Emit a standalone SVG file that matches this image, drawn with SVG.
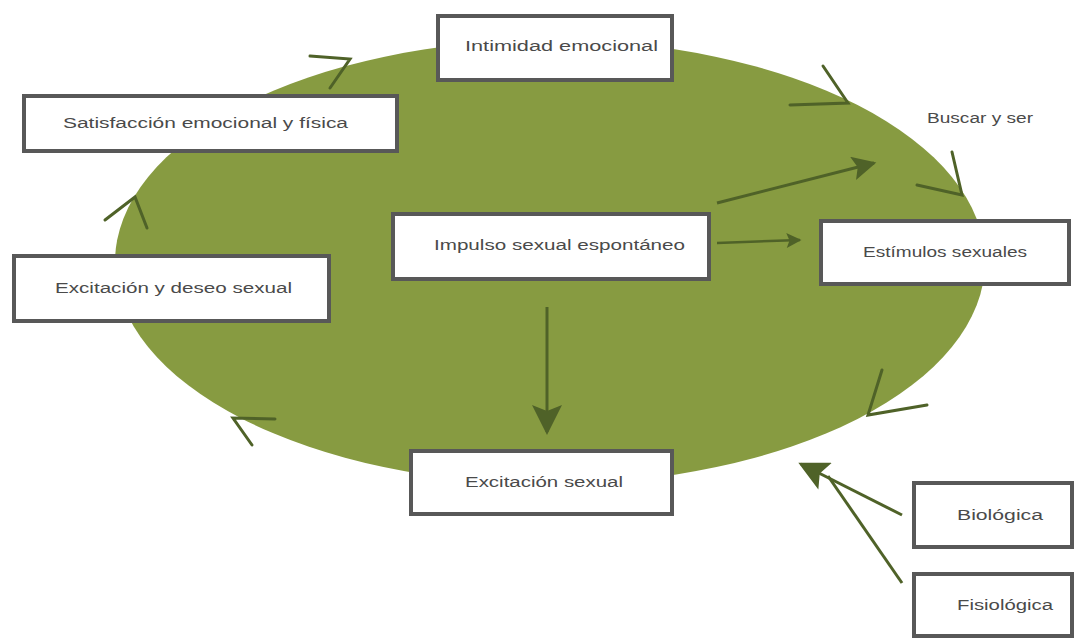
<svg xmlns="http://www.w3.org/2000/svg" width="1075" height="640" viewBox="0 0 1075 640">
<style>
.box{fill:#ffffff;stroke:#585858;stroke-width:4}
.lbl{font-family:"Liberation Sans",Arial,sans-serif;font-size:14px;fill:#4a4a4a;text-anchor:start;dominant-baseline:central}
.chev{fill:none;stroke:#4f6228;stroke-width:3;stroke-linecap:round;stroke-linejoin:miter}
.conn{fill:none;stroke:#4f6228;stroke-width:3}
</style>
<defs>
<marker id="ahS" viewBox="0 0 10 10" refX="9" refY="5" markerWidth="7" markerHeight="6" orient="auto" markerUnits="strokeWidth">
<path d="M0,0 L10,5 L0,10 L2,5 z" fill="#4f6228"/>
</marker>
<marker id="ahM" viewBox="0 0 10 10" refX="9" refY="5" markerWidth="10" markerHeight="8" orient="auto" markerUnits="strokeWidth">
<path d="M0,0 L10,5 L0,10 L2,5 z" fill="#4f6228"/>
</marker>
<marker id="ahL" viewBox="0 0 10 10" refX="9" refY="5" markerWidth="12" markerHeight="10" orient="auto" markerUnits="strokeWidth">
<path d="M0,0 L10,5 L0,10 L2,5 z" fill="#4f6228"/>
</marker>
</defs>
<rect width="1075" height="640" fill="#ffffff"/>
<ellipse id="ellipse" cx="550" cy="262" rx="435" ry="222" fill="#879b41"/>
<g id="connectors">
<polyline class="chev" points="310,56 350,59 330,88"/>
<polyline class="chev" points="823,66 848,103 790,105"/>
<polyline class="chev" points="952,152 962,195 917,185"/>
<polyline class="chev" points="882,370 868,415 927,405"/>
<polyline class="chev" points="275,419 233,418 252,445"/>
<polyline class="chev" points="105,220 135,197 147,228"/>
<line class="conn" x1="717" y1="203" x2="874" y2="163" marker-end="url(#ahM)"/>
<line class="conn" x1="717" y1="243" x2="800" y2="240" marker-end="url(#ahS)" style="stroke-width:2.5"/>
<line class="conn" x1="547" y1="307" x2="547" y2="432" marker-end="url(#ahL)"/>
<line class="conn" x1="902" y1="515" x2="801" y2="464" marker-end="url(#ahL)"/>
<line class="conn" x1="902" y1="583" x2="828" y2="476"/>
</g>
<g id="intimidad"><rect class="box" x="438" y="16" width="234" height="64"/><text class="lbl" x="465" y="46" textLength="193" lengthAdjust="spacingAndGlyphs">Intimidad emocional</text></g>
<g id="satisfaccion"><rect class="box" x="24" y="96" width="373" height="55"/><text class="lbl" x="63" y="123" textLength="285" lengthAdjust="spacingAndGlyphs">Satisfacción emocional y física</text></g>
<g id="buscar"><text class="lbl" x="927" y="118" textLength="106" lengthAdjust="spacingAndGlyphs">Buscar y ser</text></g>
<g id="excitacion-deseo"><rect class="box" x="14" y="256" width="315" height="65"/><text class="lbl" x="55" y="288" textLength="237" lengthAdjust="spacingAndGlyphs">Excitación y deseo sexual</text></g>
<g id="impulso"><rect class="box" x="393" y="214" width="316" height="65"/><text class="lbl" x="434" y="245" textLength="251" lengthAdjust="spacingAndGlyphs">Impulso sexual espontáneo</text></g>
<g id="estimulos"><rect class="box" x="821" y="221" width="248" height="63"/><text class="lbl" x="863" y="252" textLength="164" lengthAdjust="spacingAndGlyphs">Estímulos sexuales</text></g>
<g id="excitacion-sexual"><rect class="box" x="411" y="451" width="261" height="63"/><text class="lbl" x="465" y="482" textLength="158" lengthAdjust="spacingAndGlyphs">Excitación sexual</text></g>
<g id="biologica"><rect class="box" x="914" y="483" width="158" height="64"/><text class="lbl" x="957" y="515" textLength="86" lengthAdjust="spacingAndGlyphs">Biológica</text></g>
<g id="fisiologica"><rect class="box" x="914" y="574" width="158" height="62"/><text class="lbl" x="957" y="605" textLength="96" lengthAdjust="spacingAndGlyphs">Fisiológica</text></g>
</svg>
